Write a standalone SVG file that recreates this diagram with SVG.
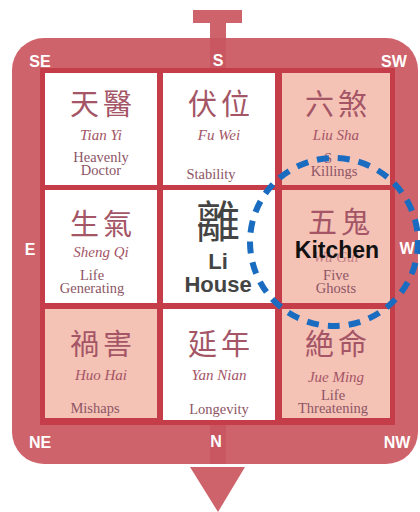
<svg xmlns="http://www.w3.org/2000/svg" width="420" height="512" viewBox="0 0 420 512">
<style>
.band{fill:#cf636b}
.strip{fill:#c4505a}
.frame{fill:#c53d48}
.white{fill:#ffffff}
.pink{fill:#f5c2b6}
.dir{font-family:"Liberation Sans",Arial,sans-serif;font-weight:bold;font-size:16px;fill:#ffffff;text-anchor:middle}
.cn{font-family:"Noto Sans CJK TC","Noto Sans CJK JP",serif;font-size:29px;fill:#a45566;text-anchor:middle;letter-spacing:4px}
.py{font-family:"Liberation Serif","Times New Roman",serif;font-style:italic;font-size:15px;fill:#a45566;text-anchor:middle}
.en{font-family:"Liberation Serif","Times New Roman",serif;font-size:14.5px;fill:#8d5565;text-anchor:middle}
.big{font-family:"Liberation Sans",Arial,sans-serif;font-weight:bold;font-size:22px;fill:#444444;text-anchor:middle}
</style>
<g id="compass">
<rect class="band" x="12" y="38" width="406" height="426" rx="32"/>
<rect class="band" x="193" y="10" width="49" height="13"/>
<rect class="band" x="210" y="22" width="16" height="17"/>
<rect class="strip" x="210" y="38" width="16" height="30" opacity="0.6"/>
<rect class="strip" x="210" y="425" width="16" height="39" opacity="0.6"/>
<polygon class="band" points="190,467 245,467 218,512"/>
<text class="dir" x="40" y="67">SE</text>
<text class="dir" x="218" y="66" font-size="15">S</text>
<text class="dir" x="394" y="67">SW</text>
<text class="dir" x="30" y="255">E</text>
<text class="dir" x="407" y="254">W</text>
<text class="dir" x="40" y="448">NE</text>
<text class="dir" x="216" y="447" font-size="15">N</text>
<text class="dir" x="397" y="448">NW</text>
</g>
<rect id="grid-frame" class="frame" x="40" y="68" width="355" height="357"/>
<g id="cell-tianyi">
<rect class="white" x="45" y="73" width="112" height="112"/>
<text class="cn" x="103" y="115">天醫</text>
<text class="py" x="101" y="140">Tian Yi</text>
<text class="en" x="101" y="162">Heavenly</text>
<text class="en" x="101" y="175">Doctor</text>
</g>
<g id="cell-fuwei">
<rect class="white" x="163" y="73" width="112" height="112"/>
<text class="cn" x="221" y="115">伏位</text>
<text class="py" x="219" y="140">Fu Wei</text>
<text class="en" x="211" y="179">Stability</text>
</g>
<g id="cell-liusha">
<rect class="pink" x="282" y="73" width="108" height="112"/>
<text class="cn" x="338" y="115">六煞</text>
<text class="py" x="336" y="140">Liu Sha</text>
<text class="en" x="328" y="163">S</text>
<text class="en" x="334" y="176">Killings</text>
</g>
<g id="cell-shengqi">
<rect class="white" x="45" y="190" width="112" height="113"/>
<text class="cn" x="103" y="235">生氣</text>
<text class="py" x="101" y="257">Sheng Qi</text>
<text class="en" x="92" y="280">Life</text>
<text class="en" x="92" y="293">Generating</text>
</g>
<g id="cell-li-house">
<rect class="white" x="163" y="190" width="112" height="113"/>
<text x="218" y="238" font-family="Noto Sans CJK TC,Noto Sans CJK JP,sans-serif" font-size="44" fill="#444444" text-anchor="middle">離</text>
<text class="big" x="218" y="269">Li</text>
<text class="big" x="218" y="292">House</text>
</g>
<g id="cell-wugui">
<rect class="pink" x="282" y="190" width="108" height="113"/>
<text class="cn" x="341" y="233">五鬼</text>
<text class="py" x="336" y="262" opacity="0.6">Wu Gui</text>
<text x="337" y="258" font-family="Liberation Sans,Arial,sans-serif" font-weight="bold" font-size="23" fill="#111111" text-anchor="middle">Kitchen</text>
<text class="en" x="336" y="280">Five</text>
<text class="en" x="336" y="293">Ghosts</text>
</g>
<g id="cell-huohai">
<rect class="pink" x="45" y="309" width="112" height="109"/>
<text class="cn" x="103" y="355">禍害</text>
<text class="py" x="101" y="380">Huo Hai</text>
<text class="en" x="95" y="413">Mishaps</text>
</g>
<g id="cell-yannian">
<rect class="white" x="163" y="309" width="112" height="111"/>
<text class="cn" x="221" y="355">延年</text>
<text class="py" x="219" y="380">Yan Nian</text>
<text class="en" x="219" y="414">Longevity</text>
</g>
<g id="cell-jueming">
<rect class="pink" x="282" y="309" width="108" height="109"/>
<text class="cn" x="338" y="355">絶命</text>
<text class="py" x="336" y="382">Jue Ming</text>
<text class="en" x="333" y="400">Life</text>
<text class="en" x="333" y="413">Threatening</text>
</g>
<g id="connectors">
<ellipse cx="334" cy="242" rx="84" ry="84" fill="none" stroke="#1a6cc0" stroke-width="6" stroke-dasharray="12 9"/>
</g>
</svg>
